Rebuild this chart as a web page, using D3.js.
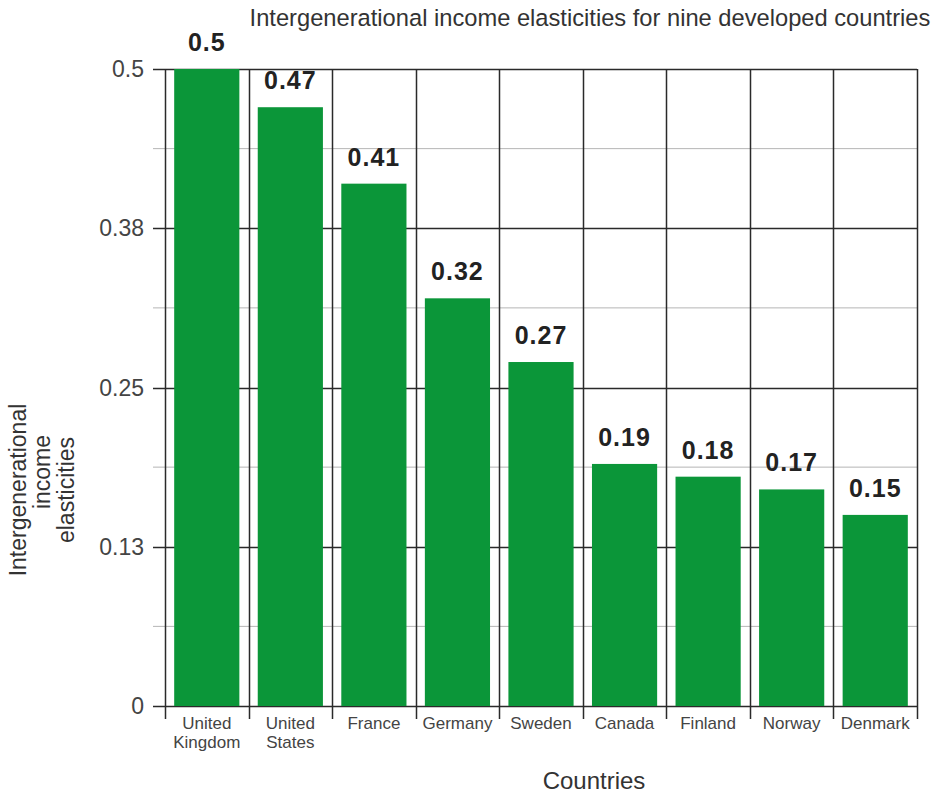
<!DOCTYPE html>
<html>
<head>
<meta charset="utf-8">
<script src="https://cdn.jsdelivr.net/npm/d3@7"></script>
<style>
	body { margin: 0; background: #fff; }
	svg text { font-family: "Liberation Sans", Arial, sans-serif; }
</style>
</head>
<body>
<div id="chart"></div>
<script>
	//
	// Data
	//
	let countries = [
		["United", "Kingdom"], ["United", "States"], ["France"], ["Germany"], ["Sweden"],
		["Canada"], ["Finland"], ["Norway"], ["Denmark"]
	];
	let elasticities = [0.5, 0.47, 0.41, 0.32, 0.27, 0.19, 0.18, 0.17, 0.15];
	let valueLabels = ["0.5", "0.47", "0.41", "0.32", "0.27", "0.19", "0.18", "0.17", "0.15"];
	let majorTicks = [0, 0.125, 0.25, 0.375, 0.5];
	let majorTickLabels = ["0", "0.13", "0.25", "0.38", "0.5"];
	let minorTicks = [0.0625, 0.1875, 0.3125, 0.4375];

	let BAR_GREEN = '#0b9639';

	var svg_width = 938,
		svg_height = 795;

	var svg = d3.select("#chart").append("svg")
		.attr("width", svg_width)
		.attr("height", svg_height);

	var keys = countries.map(function(c) { return c.join(" "); });

	var x = d3.scaleBand()
		.domain(keys)
		.range([165, 917])
		.paddingInner(0.22)
		.paddingOuter(0.11);

	var y = d3.scaleLinear()
		.domain([0, 0.5])
		.range([706, 69]);

	var half = x.step() * x.paddingInner() / 2;
	var bounds = keys.map(function(k) { return x(k) - half; });
	bounds.push(x(keys[keys.length - 1]) + x.bandwidth() + half);

	// minor grid
	svg.append("g").selectAll("line")
		.data(minorTicks)
		.enter().append("line")
		.attr("x1", 153).attr("x2", 917)
		.attr("y1", function(d) { return y(d); })
		.attr("y2", function(d) { return y(d); })
		.style("stroke", "#b5b5b5")
		.style("stroke-width", 1);

	// major grid
	svg.append("g").selectAll("line")
		.data(majorTicks)
		.enter().append("line")
		.attr("x1", 153).attr("x2", 917)
		.attr("y1", function(d) { return Math.round(y(d)) + 0.5; })
		.attr("y2", function(d) { return Math.round(y(d)) + 0.5; })
		.style("stroke", "#2a2a2a")
		.style("stroke-width", 1.5);

	// bars
	svg.append("g").selectAll("rect")
		.data(elasticities)
		.enter().append("rect")
		.attr("x", function(d, i) { return x(keys[i]); })
		.attr("width", x.bandwidth())
		.attr("y", function(d) { return y(d); })
		.attr("height", function(d) { return y(0) - y(d); })
		.style("fill", BAR_GREEN);

	// vertical lines between categories
	svg.append("g").selectAll("line")
		.data(bounds)
		.enter().append("line")
		.attr("x1", function(d) { return Math.round(d) + 0.5; })
		.attr("x2", function(d) { return Math.round(d) + 0.5; })
		.attr("y1", y(0.5))
		.attr("y2", 719)
		.style("stroke", "#2a2a2a")
		.style("stroke-width", 1.5);

	// value labels
	svg.append("g").selectAll("text")
		.data(elasticities)
		.enter().append("text")
		.attr("x", function(d, i) { return x(keys[i]) + x.bandwidth() / 2; })
		.attr("y", function(d) { return y(d) - 18; })
		.attr("text-anchor", "middle")
		.style("font-size", "25px")
		.style("font-weight", "bold")
		.style("letter-spacing", "1px")
		.style("fill", "#222")
		.text(function(d, i) { return valueLabels[i]; });

	// y tick labels
	svg.append("g").selectAll("text")
		.data(majorTicks)
		.enter().append("text")
		.attr("x", 144)
		.attr("y", function(d) { return y(d) + 8; })
		.attr("text-anchor", "end")
		.style("font-size", "23px")
		.style("fill", "#444")
		.text(function(d, i) { return majorTickLabels[i]; });

	// category labels
	var cat = svg.append("g").selectAll("text")
		.data(countries)
		.enter().append("text")
		.attr("text-anchor", "middle")
		.style("font-size", "17px")
		.style("fill", "#444");
	cat.each(function(c, i) {
		var t = d3.select(this);
		c.forEach(function(line, j) {
			t.append("tspan")
				.attr("x", x(keys[i]) + x.bandwidth() / 2)
				.attr("y", 729 + j * 19)
				.text(line);
		});
	});

	// title
	svg.append("text")
		.attr("x", 590)
		.attr("y", 26)
		.attr("text-anchor", "middle")
		.style("font-size", "23.7px")
		.style("fill", "#333")
		.text("Intergenerational income elasticities for nine developed countries");

	// x axis title
	svg.append("text")
		.attr("x", 594)
		.attr("y", 789)
		.attr("text-anchor", "middle")
		.style("font-size", "24px")
		.style("fill", "#333")
		.text("Countries");

	// y axis title
	var yTitle = ["Intergenerational", "income", "elasticities"];
	var yTitleCenter = [490, 472, 490];
	svg.append("g").selectAll("text")
		.data(yTitle)
		.enter().append("text")
		.attr("transform", function(d, i) { return "translate(" + (26 + i * 24) + "," + yTitleCenter[i] + ") rotate(-90)"; })
		.attr("text-anchor", "middle")
		.style("font-size", "23px")
		.style("fill", "#333")
		.text(function(d) { return d; });
</script>
</body>
</html>
